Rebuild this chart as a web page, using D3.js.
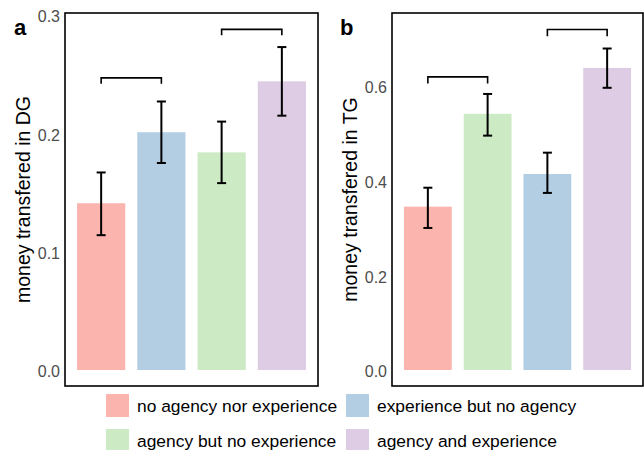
<!DOCTYPE html>
<html>
<head>
<meta charset="utf-8">
<script src="https://cdn.jsdelivr.net/npm/d3@7"></script>
<style>
  html, body { margin: 0; padding: 0; background: #fff; }
  svg { display: block; font-family: "Liberation Sans", Arial, sans-serif; }
</style>
</head>
<body>
<svg id="chart" width="644" height="450"></svg>
<script>
// ---- data ----
const categories = ["no agency nor experience", "experience but no agency", "agency but no experience", "agency and experience"];
const categoryColors = ["#FBB4AE", "#B3CDE3", "#CCEBC5", "#DECBE4"];

// panel a (DG)
const dgOrder = ["no agency nor experience", "experience but no agency", "agency but no experience", "agency and experience"];
const dgMean  = [0.141, 0.201, 0.184, 0.244];
const dgLow   = [0.114, 0.175, 0.158, 0.215];
const dgHigh  = [0.167, 0.227, 0.210, 0.273];
const dgTicks = [0.0, 0.1, 0.2, 0.3];
const dgBrackets = [
  { from: 0, to: 1, y: 0.247, drop: 0.005 },
  { from: 2, to: 3, y: 0.288, drop: 0.005 }
];

// panel b (TG)
const tgOrder = ["no agency nor experience", "agency but no experience", "experience but no agency", "agency and experience"];
const tgMean  = [0.345, 0.541, 0.414, 0.638];
const tgLow   = [0.300, 0.495, 0.374, 0.596];
const tgHigh  = [0.385, 0.583, 0.459, 0.679];
const tgTicks = [0.0, 0.2, 0.4, 0.6];
const tgBrackets = [
  { from: 0, to: 1, y: 0.619, drop: 0.014 },
  { from: 2, to: 3, y: 0.719, drop: 0.014 }
];

const legendRows = [
  ["no agency nor experience", "experience but no agency"],
  ["agency but no experience", "agency and experience"]
];

// ---- drawing ----
const svg = d3.select("#chart");
const color = d3.scaleOrdinal().domain(categories).range(categoryColors);

function panel(opts) {
  const { left, right, top, bottom, order, mean, low, high, ticks, domain, brackets, title, tag, tagX } = opts;
  const x = d3.scaleBand().domain(order).range([left, right]).paddingInner(0.2).paddingOuter(0.2);
  const y = d3.scaleLinear().domain(domain).range([bottom, top]);
  const g = svg.append("g");

  // bars
  g.selectAll("rect.bar").data(order).join("rect")
    .attr("class", "bar")
    .attr("x", d => x(d))
    .attr("width", x.bandwidth())
    .attr("y", (d, i) => y(mean[i]))
    .attr("height", (d, i) => y(0) - y(mean[i]))
    .attr("fill", d => color(d));

  // error bars
  const capW = 9;
  const eg = g.selectAll("g.err").data(order).join("g").attr("class", "err");
  eg.append("line")
    .attr("x1", d => x(d) + x.bandwidth() / 2).attr("x2", d => x(d) + x.bandwidth() / 2)
    .attr("y1", (d, i) => y(low[i])).attr("y2", (d, i) => y(high[i]));
  eg.append("line")
    .attr("x1", d => x(d) + x.bandwidth() / 2 - capW / 2).attr("x2", d => x(d) + x.bandwidth() / 2 + capW / 2)
    .attr("y1", (d, i) => y(low[i])).attr("y2", (d, i) => y(low[i]));
  eg.append("line")
    .attr("x1", d => x(d) + x.bandwidth() / 2 - capW / 2).attr("x2", d => x(d) + x.bandwidth() / 2 + capW / 2)
    .attr("y1", (d, i) => y(high[i])).attr("y2", (d, i) => y(high[i]));
  eg.selectAll("line").attr("stroke", "#000").attr("stroke-width", 2);

  // brackets
  g.selectAll("path.br").data(brackets).join("path")
    .attr("class", "br")
    .attr("fill", "none").attr("stroke", "#000").attr("stroke-width", 1.6)
    .attr("d", b => {
      const x1 = x(order[b.from]) + x.bandwidth() / 2;
      const x2 = x(order[b.to]) + x.bandwidth() / 2;
      return `M${x1},${y(b.y - b.drop)}V${y(b.y)}H${x2}V${y(b.y - b.drop)}`;
    });

  // axis (labels only, no tick marks)
  const ax = g.append("g").attr("transform", `translate(${left},0)`)
    .call(d3.axisLeft(y).tickValues(ticks).tickFormat(d3.format(".1f")).tickSize(0).tickPadding(5));
  ax.select(".domain").remove();
  ax.selectAll("text").attr("fill", "#4D4D4D").attr("font-size", 16)
    .attr("font-family", "Liberation Sans, Arial, sans-serif").attr("dy", "0.42em");

  // frame
  g.append("rect").attr("x", left).attr("y", top).attr("width", right - left).attr("height", bottom - top)
    .attr("fill", "none").attr("stroke", "#000").attr("stroke-width", 1.6);

  // axis title
  g.append("text")
    .attr("transform", `translate(${left - 35},${(top + bottom) / 2}) rotate(-90)`)
    .attr("text-anchor", "middle").attr("font-size", 19.5).attr("fill", "#000")
    .text(title);

  // tag
  g.append("text").attr("x", tagX).attr("y", 35).attr("font-size", 22).attr("font-weight", "bold")
    .attr("fill", "#000").text(tag);
}

panel({ left: 65, right: 318, top: 13, bottom: 386, order: dgOrder, mean: dgMean, low: dgLow, high: dgHigh,
        ticks: dgTicks, domain: [-0.0135, 0.3018], brackets: dgBrackets, title: "money transfered in DG", tag: "a", tagX: 14 });
panel({ left: 392, right: 643, top: 13, bottom: 386, order: tgOrder, mean: tgMean, low: tgLow, high: tgHigh,
        ticks: tgTicks, domain: [-0.0338, 0.754], brackets: tgBrackets, title: "money transfered in TG", tag: "b", tagX: 340 });

// legend
const legendX = [106, 346];
const legendY = [394, 429];
legendRows.forEach((row, ri) => {
  row.forEach((name, ci) => {
    svg.append("rect").attr("x", legendX[ci]).attr("y", legendY[ri]).attr("width", 23).attr("height", 23)
      .attr("fill", color(name));
    svg.append("text").attr("x", legendX[ci] + 31).attr("y", legendY[ri] + 11.5).attr("dy", "0.36em")
      .attr("font-size", 17.4).attr("fill", "#000").text(name);
  });
});
</script>
</body>
</html>
